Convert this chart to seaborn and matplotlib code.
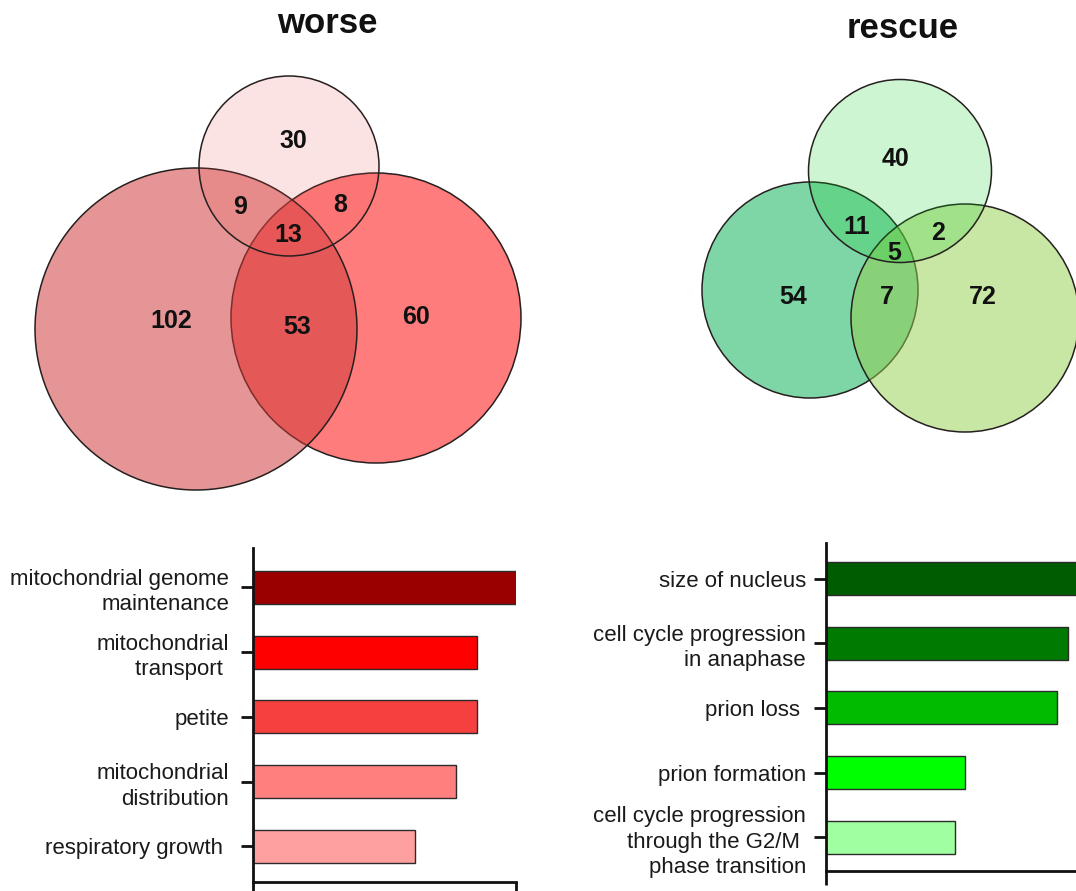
import matplotlib
matplotlib.use("Agg")
import matplotlib.pyplot as plt
from matplotlib.patches import Circle
import pandas as pd
import seaborn as sns

# ---- data -------------------------------------------------------------
venn_regions = ["A", "B", "C", "AB", "AC", "BC", "ABC"]
worse_counts = [102, 60, 30, 53, 9, 8, 13]
rescue_counts = [54, 72, 40, 7, 11, 2, 5]

worse_terms = [
    "mitochondrial genome\nmaintenance",
    "mitochondrial\ntransport ",
    "petite",
    "mitochondrial\ndistribution",
    "respiratory growth ",
]
worse_scores = [10.0, 8.5, 8.5, 7.7, 6.15]

rescue_terms = [
    "size of nucleus",
    "cell cycle progression\nin anaphase",
    "prion loss ",
    "prion formation",
    "cell cycle progression\nthrough the G2/M \nphase transition",
]
rescue_scores = [10.0, 9.2, 8.8, 5.3, 4.9]

# ---- styling ----------------------------------------------------------
worse_bar_colors = ["#9b0000", "#ff0000", "#f64040", "#ff7f7f", "#ffa0a0"]
rescue_bar_colors = ["#005c00", "#007a00", "#00bb00", "#00ff00", "#a0ffa0"]

W, H = 1076, 891
sns.set_theme(style="white")
plt.rcParams["font.family"] = ["Liberation Sans", "DejaVu Sans"]
plt.rcParams["text.color"] = "#111111"

fig = plt.figure(figsize=(W / 100, H / 100), dpi=100)

# background axes in pixel units for the two Venn diagrams
vax = fig.add_axes([0, 0, 1, 1])
vax.set_xlim(0, W)
vax.set_ylim(H, 0)
vax.set_aspect("equal")
vax.axis("off")

# circle geometry (center x, center y, radius) in drawing order
worse_circles = {
    "B": (376, 318, 145),
    "A": (196, 329, 161),
    "C": (289, 166, 90),
}
worse_fill = {
    "B": ((1.0, 124 / 255, 124 / 255), 1.0),
    "A": ((206 / 255, 56 / 255, 56 / 255), 0.53),
    "C": ((242 / 255, 86 / 255, 86 / 255), 0.16),
}
worse_label_xy = {
    "A": (171, 318), "B": (416, 314), "C": (293, 138),
    "AB": (297, 324), "AC": (240, 204), "BC": (340, 203), "ABC": (288, 233),
}

rescue_circles = {
    "A": (810, 290, 108),
    "B": (965, 318, 114),
    "C": (900, 171, 91.5),
}
rescue_fill = {
    "A": ((126 / 255, 214 / 255, 166 / 255), 1.0),
    "B": ((147 / 255, 206 / 255, 78 / 255), 0.51),
    "C": ((5 / 255, 205 / 255, 30 / 255), 0.2),
}
rescue_label_xy = {
    "A": (793, 295), "B": (983, 295), "C": (895, 157),
    "AB": (887, 295), "AC": (857, 224), "BC": (938, 230), "ABC": (894, 250),
}


def draw_venn(ax, circles, fills, counts, label_xy, title, title_xy):
    for z, (key, (cx, cy, r)) in enumerate(circles.items()):
        rgb, a = fills[key]
        ax.add_patch(Circle((cx, cy), r, facecolor=(*rgb, a),
                            edgecolor=(0.15, 0.12, 0.12, 1.0), linewidth=1.1,
                            zorder=1 + z))
    for region, n in zip(venn_regions, counts):
        x, y = label_xy[region]
        ax.text(x, y, str(n), ha="center", va="center_baseline",
                fontsize=18, fontweight="bold", color="#111111", zorder=10)
    ax.text(title_xy[0], title_xy[1], title, ha="center", va="baseline",
            fontsize=25, fontweight="bold", color="#111111")


draw_venn(vax, worse_circles, worse_fill, worse_counts, worse_label_xy,
          "worse", (327, 33))
draw_venn(vax, rescue_circles, rescue_fill, rescue_counts, rescue_label_xy,
          "rescue", (903, 38))


def bar_panel(rect_px, terms, scores, colors, ylim, label_pad):
    left, right, top, bottom = rect_px
    ax = fig.add_axes([left / W, (H - bottom) / H,
                       (right - left) / W, (bottom - top) / H])
    df = pd.DataFrame({"term": terms, "score": scores})
    sns.barplot(data=df, x="score", y="term", hue="term",
                palette=dict(zip(terms, colors)), legend=False,
                saturation=1, orient="h", width=0.51,
                edgecolor="#2b2b2b", linewidth=1.0, ax=ax)
    ax.set_xlim(0, 10)
    ax.set_ylim(*ylim)
    ax.set_xticks([0, 10])
    ax.set_xticklabels([])
    ax.set_xlabel("")
    ax.set_ylabel("")
    for side in ("top", "right"):
        ax.spines[side].set_visible(False)
    for side in ("left", "bottom"):
        ax.spines[side].set_linewidth(2.0)
        ax.spines[side].set_color("#111111")
    ax.tick_params(axis="y", length=8.6, width=2.0, pad=label_pad,
                   labelsize=16, color="#111111", labelcolor="#1a1a1a",
                   left=True, direction="out")
    ax.tick_params(axis="x", length=10, width=2.0, color="#111111",
                   bottom=True, direction="out")
    for lab in ax.get_yticklabels():
        lab.set_linespacing(1.28)
    ax.set_facecolor("none")
    ax.patch.set_alpha(0)
    return ax


bar_panel((253, 516, 548, 882), worse_terms, worse_scores,
          worse_bar_colors, (4.55, -0.61), 8.6)
bar_panel((826, 1089, 543, 871), rescue_terms, rescue_scores,
          rescue_bar_colors, (4.52, -0.55), 5.8)

fig.savefig("out.png", dpi=100)
